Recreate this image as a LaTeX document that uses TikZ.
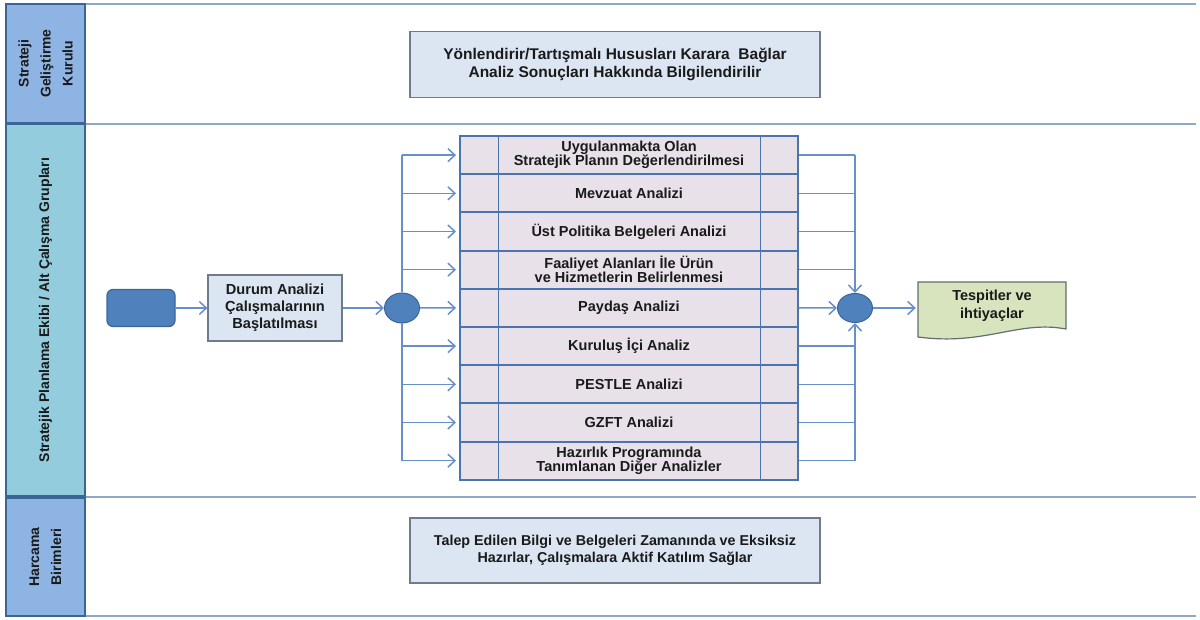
\documentclass[tikz,border=0pt]{standalone}
\usepackage{fontspec}
\setmainfont{Liberation Sans}
\usetikzlibrary{arrows.meta,shapes.geometric}
\definecolor{hdrA}{HTML}{8EB4E3}
\definecolor{hdrB}{HTML}{93CDDD}
\definecolor{hdrLine}{HTML}{3A6597}
\definecolor{laneLine}{HTML}{8EA9C8}
\definecolor{boxF}{HTML}{DCE6F2}
\definecolor{boxB}{HTML}{6D7B8D}
\definecolor{rowF}{HTML}{E8E1EA}
\definecolor{rowB}{HTML}{4A74AD}
\definecolor{arrC}{HTML}{6690CC}
\definecolor{dotF}{HTML}{4F81BD}
\definecolor{dotB}{HTML}{3C659A}
\definecolor{docF}{HTML}{D7E4BD}
\definecolor{docB}{HTML}{5F6F70}
\definecolor{txt}{HTML}{1A1A1A}
\begin{document}
\begin{tikzpicture}[x=1pt,y=-1pt,
  hdr/.style={draw=hdrLine, line width=1.8pt, rotate=90, inner sep=0pt, align=center,
    font=\bfseries\fontsize{14}{22}\selectfont, text=txt},
  lane/.style={draw=laneLine, line width=1.6pt},
  box/.style={draw=boxB, line width=1.2pt, fill=boxF, align=center, inner sep=0pt,
    font=\bfseries\fontsize{14.6}{17}\selectfont, text=txt},
  row/.style={draw=rowB, line width=2pt, fill=rowF, minimum width=338pt, minimum height=38.2pt,
    inner sep=0pt, align=center, font=\bfseries\fontsize{14.5}{13.8}\selectfont, text=txt},
  dot/.style={ellipse, draw=dotB, line width=1pt, fill=dotF, minimum width=35pt, minimum height=30pt, inner sep=0pt},
  conn/.style={draw=arrC, line width=1.5pt},
  arr/.style={conn, -{Straight Barb[length=7pt,width=13pt,line width=1.5pt]}},
]
\useasboundingbox (0,0) rectangle (1200,620);
% lane lines
\draw[lane] (85,4) -- (1196,4);
\draw[lane] (85,124) -- (1196,124);
\draw[lane] (85,497) -- (1196,497);
\draw[lane] (85,616) -- (1196,616);
% headers
\node[hdr, fill=hdrA, minimum width=119pt, minimum height=79pt] (h1) at (45.5,63.5) {Strateji\\Geliştirme\\Kurulu};
\node[hdr, fill=hdrB, minimum width=372pt, minimum height=79pt] (h2) at (45.5,310) {Stratejik Planlama Ekibi / Alt Çalışma Grupları};
\node[hdr, fill=hdrA, minimum width=118pt, minimum height=79pt] (h3) at (45.5,557) {Harcama\\Birimleri};
% top and bottom boxes
\node[box, minimum width=410pt, minimum height=66pt, font=\bfseries\fontsize{15.5}{17.5}\selectfont] (sgk) at (615,64.5) {Yönlendirir/Tartışmalı Hususları Karara~~Bağlar\\Analiz Sonuçları Hakkında Bilgilendirilir};
\node[box, minimum width=410pt, minimum height=65pt, font=\bfseries\fontsize{14.3}{17.5}\selectfont] (hb) at (615,550.5) {Talep Edilen Bilgi ve Belgeleri Zamanında ve Eksiksiz\\Hazırlar, Çalışmalara Aktif Katılım Sağlar};
% start and first step
\node[draw=dotB, line width=1.2pt, fill=dotF, rounded corners=6pt, minimum width=68pt, minimum height=37pt] (start) at (141,308) {};
\node[box, minimum width=134pt, minimum height=66pt] (durum) at (275,308) {Durum Analizi\\Çalışmalarının\\Başlatılması};
\node[dot] (c1) at (402,308) {};
% analysis rows
\node[row] (r1) at (629,155.1) {Uygulanmakta Olan\\Stratejik Planın Değerlendirilmesi};
\node[row] (r2) at (629,193.3) {Mevzuat Analizi};
\node[row] (r3) at (629,231.5) {Üst Politika Belgeleri Analizi};
\node[row] (r4) at (629,269.7) {Faaliyet Alanları İle Ürün\\ve Hizmetlerin Belirlenmesi};
\node[row] (r5) at (629,307.9) {Paydaş Analizi};
\node[row] (r6) at (629,346.1) {Kuruluş İçi Analiz};
\node[row] (r7) at (629,384.3) {PESTLE Analizi};
\node[row] (r8) at (629,422.5) {GZFT Analizi};
\node[row] (r9) at (629,460.7) {Hazırlık Programında\\Tanımlanan Diğer Analizler};
\draw[rowB, line width=0.9pt] ([xshift=39pt]r1.north west) -- ([xshift=39pt]r9.south west);
\draw[rowB, line width=0.9pt] ([xshift=-39pt]r1.north east) -- ([xshift=-39pt]r9.south east);
\node[dot, minimum height=29pt] (c2) at (855,308) {};
% result document
\path[draw=docB, line width=1.2pt, fill=docF] (918,282) -- (1066,282) -- (1066,329)
  .. controls (1018,320) and (985,346) .. (918,337) -- cycle;
\node[align=center, font=\bfseries\fontsize{14.5}{17.5}\selectfont, text=txt, minimum width=148pt, minimum height=50pt, inner sep=0pt] (tesp) at (992,306) {Tespitler ve\\ihtiyaçlar};
% connectors
\draw[arr] (start) -- (durum);
\draw[arr] (durum) -- (c1);
\draw[conn] (c1.north) -- (c1 |- r1.west);
\draw[conn] (c1.south) -- (c1 |- r9.west);
\foreach \i in {1,2,3,4,6,7,8,9} {\draw[arr] (c1 |- r\i.west) -- ([xshift=-3pt]r\i.west);}
\draw[arr] (c1.east) -- ([xshift=-3pt]r5.west);
\foreach \i in {1,2,3,4,6,7,8,9} {\draw[conn] (r\i.east) -- (c2 |- r\i.east);}
\draw[arr] (c2 |- r1.east) -- (c2.north);
\draw[arr] (c2 |- r9.east) -- (c2.south);
\draw[arr] (r5.east) -- (c2.west);
\draw[arr] (c2.east) -- ([xshift=-2pt]tesp.west |- c2.east);
\end{tikzpicture}
\end{document}
